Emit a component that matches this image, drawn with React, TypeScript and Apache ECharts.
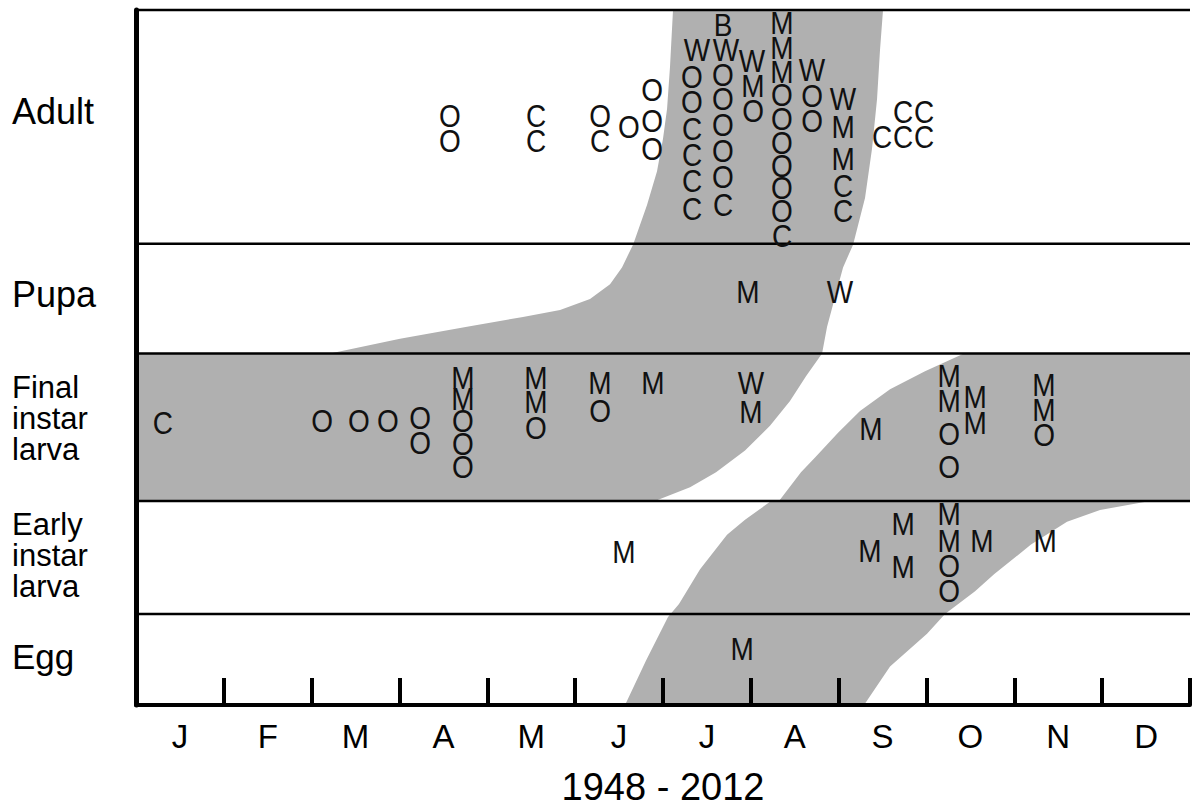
import React, { useEffect, useRef } from "react";
import * as echarts from "echarts";

const FONT = "'Liberation Sans', Arial, Helvetica, sans-serif";

const months = ["J", "F", "M", "A", "M", "J", "J", "A", "S", "O", "N", "D"];
const xAxisTitle = "1948 - 2012";
const stageNames = ["Egg", "Early\ninstar\nlarva", "Final\ninstar\nlarva", "Pupa", "Adult"];
// stage boundaries on the vertical scale (bottom of Egg .. top of Adult)
const stageBounds = [0, 0.92, 2.06, 3.55, 4.66, 7.02];

type Rec = [number, number, string];

// [month position, height, source code]
const adultRecords: Rec[] = [
  [3.575, 5.95, "O"], [3.575, 5.70, "O"],
  [4.554, 5.95, "C"], [4.554, 5.70, "C"],
  [5.283, 5.95, "O"], [5.283, 5.70, "C"],
  [5.613, 5.84, "O"],
  [5.875, 6.21, "O"], [5.875, 5.90, "O"], [5.875, 5.62, "O"],
  [6.387, 6.62, "W"], [6.718, 6.62, "W"], [7.014, 6.51, "W"],
  [6.683, 6.87, "B"],
  [6.33, 6.35, "O"], [6.33, 6.09, "O"], [6.33, 5.82, "C"], [6.33, 5.56, "C"], [6.33, 5.29, "C"], [6.33, 5.01, "C"],
  [6.683, 6.37, "O"], [6.683, 6.12, "O"], [6.683, 5.86, "O"], [6.683, 5.60, "O"], [6.683, 5.34, "O"], [6.683, 5.05, "C"],
  [7.025, 6.25, "M"], [7.025, 6.00, "O"],
  [7.355, 6.89, "M"], [7.355, 6.64, "M"], [7.355, 6.40, "M"], [7.355, 6.16, "O"], [7.355, 5.92, "O"],
  [7.355, 5.68, "O"], [7.355, 5.45, "O"], [7.355, 5.22, "O"], [7.355, 4.99, "O"], [7.355, 4.74, "C"],
  [7.697, 6.42, "W"], [7.697, 6.15, "O"], [7.697, 5.90, "O"],
  [8.05, 6.12, "W"], [8.05, 5.84, "M"], [8.05, 5.52, "M"], [8.05, 5.24, "C"], [8.05, 4.99, "C"],
  [8.733, 5.99, "C"], [8.972, 5.99, "C"],
  [8.494, 5.74, "C"], [8.733, 5.74, "C"], [8.972, 5.74, "C"],
];

const pupaRecords: Rec[] = [
  [6.968, 4.17, "M"], [8.015, 4.17, "W"],
];

const finalLarvaRecords: Rec[] = [
  [0.307, 2.85, "C"],
  [2.118, 2.87, "O"], [2.539, 2.87, "O"], [2.869, 2.87, "O"],
  [3.234, 2.9, "O"], [3.234, 2.65, "O"],
  [3.723, 3.31, "M"], [3.723, 3.09, "M"], [3.723, 2.87, "O"], [3.723, 2.64, "O"], [3.723, 2.41, "O"],
  [4.554, 3.3, "M"], [4.554, 3.06, "M"], [4.554, 2.8, "O"],
  [5.283, 3.25, "M"], [5.283, 2.97, "O"],
  [5.886, 3.25, "M"],
  [7.002, 3.25, "W"], [7.002, 2.96, "M"],
  [8.368, 2.79, "M"],
  [9.257, 3.33, "M"], [9.257, 3.07, "M"], [9.257, 2.74, "O"], [9.257, 2.41, "O"],
  [9.553, 3.11, "M"], [9.553, 2.85, "M"],
  [10.338, 3.23, "M"], [10.338, 2.98, "M"], [10.338, 2.73, "O"],
];

const earlyLarvaRecords: Rec[] = [
  [5.556, 1.55, "M"], [8.357, 1.56, "M"],
  [8.733, 1.83, "M"], [8.733, 1.4, "M"],
  [9.257, 1.93, "M"], [9.257, 1.66, "M"], [9.257, 1.41, "O"], [9.257, 1.15, "O"],
  [9.632, 1.66, "M"], [10.35, 1.66, "M"],
];

const eggRecords: Rec[] = [[6.9, 0.57, "M"]];

// Phenology envelopes (month position, height)
const adultEnvelope: [number, number][] = [
  [2.209, 3.55], [3.006, 3.7], [3.769, 3.82], [4.406, 3.92], [4.828, 3.99], [5.169, 4.1],
  [5.397, 4.25], [5.533, 4.42], [5.659, 4.65], [5.818, 5.05], [5.932, 5.39], [6.0, 5.72],
  [6.046, 6.02], [6.08, 6.45], [6.114, 7.02],
  [8.505, 7.02], [8.471, 6.62], [8.437, 6.12], [8.38, 5.62], [8.3, 5.12], [8.164, 4.65],
  [8.05, 4.42], [7.959, 4.12], [7.868, 3.82], [7.811, 3.55],
];

const larvaGap: [number, number][] = [
  [7.811, 3.55], [7.628, 3.32], [7.446, 3.07], [7.218, 2.82], [6.934, 2.57], [6.604, 2.35],
  [6.308, 2.2], [5.909, 2.06],
  [7.321, 2.06], [7.571, 2.35], [7.731, 2.5], [7.993, 2.75], [8.243, 2.97], [8.585, 3.19],
  [8.983, 3.37], [9.427, 3.55],
];

const newGenerationEnvelope: [number, number][] = [
  [7.23, 2.06], [6.934, 1.87], [6.729, 1.72], [6.422, 1.37], [6.182, 1.02], [6.057, 0.89],
  [5.807, 0.45], [5.568, 0],
  [8.289, 0], [8.585, 0.39], [9.006, 0.72], [9.211, 0.92], [9.553, 1.15], [9.769, 1.32],
  [10.19, 1.62], [10.6, 1.85], [10.976, 1.97], [11.545, 2.06],
];

const stageLabelY = [656, 555, 418, 294, 111];
const stageLabelSize = [35, 31, 31, 36, 36];

const GRAY = "#b0b0b0";

function polySeries(points: [number, number][], color: string, z: number) {
  return {
    type: "custom",
    coordinateSystem: "cartesian2d",
    xAxisIndex: 0,
    yAxisIndex: 0,
    silent: true,
    z,
    data: [[0, 0]],
    renderItem: (_p: any, api: any) => ({
      type: "polygon",
      shape: { points: points.map((pt) => api.coord(pt)) },
      style: { fill: color, stroke: null },
    }),
  };
}

export default function App() {
  const ref = useRef<HTMLDivElement>(null);
  useEffect(() => {
    if (!ref.current) return;
    const chart = echarts.init(ref.current, undefined, { renderer: "svg" });
    const allRecords = [
      ...adultRecords, ...pupaRecords, ...finalLarvaRecords, ...earlyLarvaRecords, ...eggRecords,
    ];
    const band: [number, number][] = [
      [0, stageBounds[2]], [12, stageBounds[2]], [12, stageBounds[3]], [0, stageBounds[3]],
    ];
    const option: any = {
      animation: false,
      grid: { left: 136, width: 1054, top: 10, height: 702, containLabel: false },
      xAxis: [
        {
          type: "value", min: 0, max: 12, interval: 1, z: 10,
          axisLine: { show: true, lineStyle: { color: "#000", width: 4 } },
          axisTick: { show: true, inside: true, length: 27, lineStyle: { color: "#000", width: 4 } },
          axisLabel: { show: false },
          splitLine: { show: false },
        },
        {
          type: "category", data: months, position: "bottom", boundaryGap: true,
          axisLine: { show: false }, axisTick: { show: false }, splitLine: { show: false },
          axisLabel: { show: true, fontSize: 33, color: "#000", fontFamily: FONT, margin: 15 },
          name: xAxisTitle, nameLocation: "middle", nameGap: 63,
          nameTextStyle: { fontSize: 38, color: "#000", fontFamily: FONT },
        },
      ],
      yAxis: {
        type: "value", min: 0, max: stageBounds[stageBounds.length - 1], z: 10,
        axisLine: { show: true, lineStyle: { color: "#000", width: 5 } },
        axisTick: { show: false }, axisLabel: { show: false }, splitLine: { show: false },
      },
      graphic: stageNames.map((name, i) => ({
        type: "text",
        x: 12,
        y: stageLabelY[i],
        style: {
          text: name,
          fontSize: stageLabelSize[i],
          lineHeight: stageLabelSize[i] === 31 ? 31 : undefined,
          fontFamily: FONT,
          fill: "#000",
          align: "left",
          verticalAlign: "middle",
        },
      })),
      series: [
        polySeries(band, GRAY, 1),
        polySeries(adultEnvelope, GRAY, 1),
        polySeries(newGenerationEnvelope, GRAY, 1),
        polySeries(larvaGap, "#ffffff", 2),
        {
          type: "custom",
          coordinateSystem: "cartesian2d",
          silent: true,
          z: 4,
          data: stageBounds.slice(1).map((b) => [0, b]),
          renderItem: (_p: any, api: any) => {
            const b = api.value(1);
            const a = api.coord([0, b]);
            const c = api.coord([12, b]);
            return {
              type: "line",
              shape: { x1: a[0], y1: a[1], x2: c[0], y2: c[1] },
              style: { stroke: "#000", lineWidth: 2.5 },
            };
          },
        },
        {
          type: "custom",
          coordinateSystem: "cartesian2d",
          silent: true,
          z: 6,
          data: allRecords.map((r) => [r[0], r[1]]),
          renderItem: (params: any, api: any) => {
            const p = api.coord([api.value(0), api.value(1)]);
            const code = allRecords[params.dataIndex][2];
            return {
              type: "text",
              x: p[0],
              y: p[1],
              scaleY: 1.15,
              style: {
                text: code,
                fontSize: 28,
                fontFamily: FONT,
                fill: "#111",
                align: "center",
                verticalAlign: "middle",
              },
            };
          },
        },
      ],
    };
    chart.setOption(option);
    return () => chart.dispose();
  }, []);
  return (
    <div
      ref={ref}
      style={{ position: "fixed", left: 0, top: 0, width: 1192, height: 811, background: "#fff" }}
    />
  );
}
